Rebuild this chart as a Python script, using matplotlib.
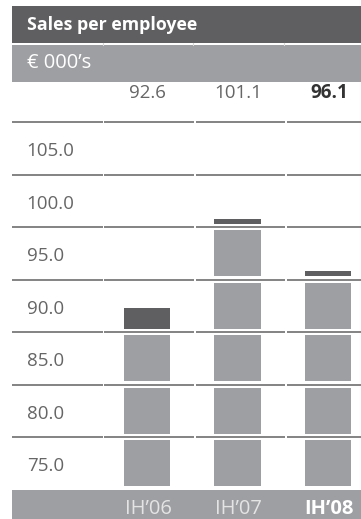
import matplotlib
matplotlib.use('Agg')
import matplotlib.pyplot as plt
from matplotlib.patches import Rectangle

plt.rcParams['font.family'] = ['Open Sans', 'DejaVu Sans']

# data
periods = ["IH’06", "IH’07", "IH’08"]
values = [92.6, 101.1, 96.1]
bands = [75.0, 80.0, 85.0, 90.0, 95.0, 100.0, 105.0]
step = 5.0
title = 'Sales per employee'
unit = "€ 000’s"

DARK = '#5f5f62'
LIGHT = '#9e9fa2'
LINE = '#7a7a7a'
W, H = 361, 519

fig = plt.figure(figsize=(W / 100, H / 100), dpi=100)

# background axes in pixel coords
bg = fig.add_axes([0, 0, 1, 1])
bg.set_xlim(0, W)
bg.set_ylim(H, 0)
bg.axis('off')

bg.add_patch(Rectangle((12, 6), W - 12, 37, color=DARK, lw=0))
bg.add_patch(Rectangle((12, 45), W - 12, 37, color=LIGHT, lw=0))
bg.add_patch(Rectangle((12, 490), W - 12, 29, color=LIGHT, lw=0))
for xs in [103, 193, 284]:
    bg.plot([xs, xs], [43, 45], color='#d8d8d8', lw=0.8)
bg.text(27, 25, title, color='white', fontsize=12.8, fontweight='bold', va='center')
bg.text(27, 63.5, unit, color='white', fontsize=14.5, va='center')

# bar axes in value units
top_px, bot_px = 122, 489.5
ax = fig.add_axes([12 / W, (H - bot_px) / H, (W - 12) / W, (bot_px - top_px) / H])
x0, dx = 147, 90.5
ax.set_xlim((12 - x0) / dx, (W - x0) / dx)
ax.set_ylim(bands[0], bands[-1] + step)
ax.axis('off')
ax.patch.set_alpha(0)

gap = 0.3
bw = 46 / dx
for i, v in enumerate(values):
    for b in bands:
        if v <= b:
            continue
        top = min(v, b + step)
        full = v >= b + step
        lo = b + gap
        hi = top - gap
        ax.bar(i, hi - lo, bottom=lo, width=bw,
               color=LIGHT if full else DARK, lw=0)

# band grid lines, with small breaks at the column edges
segs = [(-1.49, -0.49), (-0.47, 0.52), (0.54, 1.53), (1.55, 2.37)]
for b in bands[1:] + [bands[-1] + step]:
    for a, c in segs:
        ax.plot([a, c], [b, b], color=LINE, lw=1.3, solid_capstyle='butt', clip_on=False)

for b in bands:
    ax.text(-1.33, b + 2.2, f'{b:.1f}', color='#666666', fontsize=13.5, va='center')

# value row and period labels
for i, (p, v) in enumerate(zip(periods, values)):
    last = i == len(values) - 1
    ax.text(i + 0.01, bands[-1] + step + 2.8, f'{v:.1f}', ha='center', va='center',
            fontsize=13.5, color='#333333' if last else '#666666',
            fontweight='bold' if last else 'normal', clip_on=False)
    xp = x0 + dx * i + 1
    bg.text(xp, 513.5, p, ha='center', va='baseline', fontsize=14.5,
            color='white' if last else '#e4e4e4',
            fontweight='bold' if last else 'normal')

fig.savefig('out.png', dpi=100)
